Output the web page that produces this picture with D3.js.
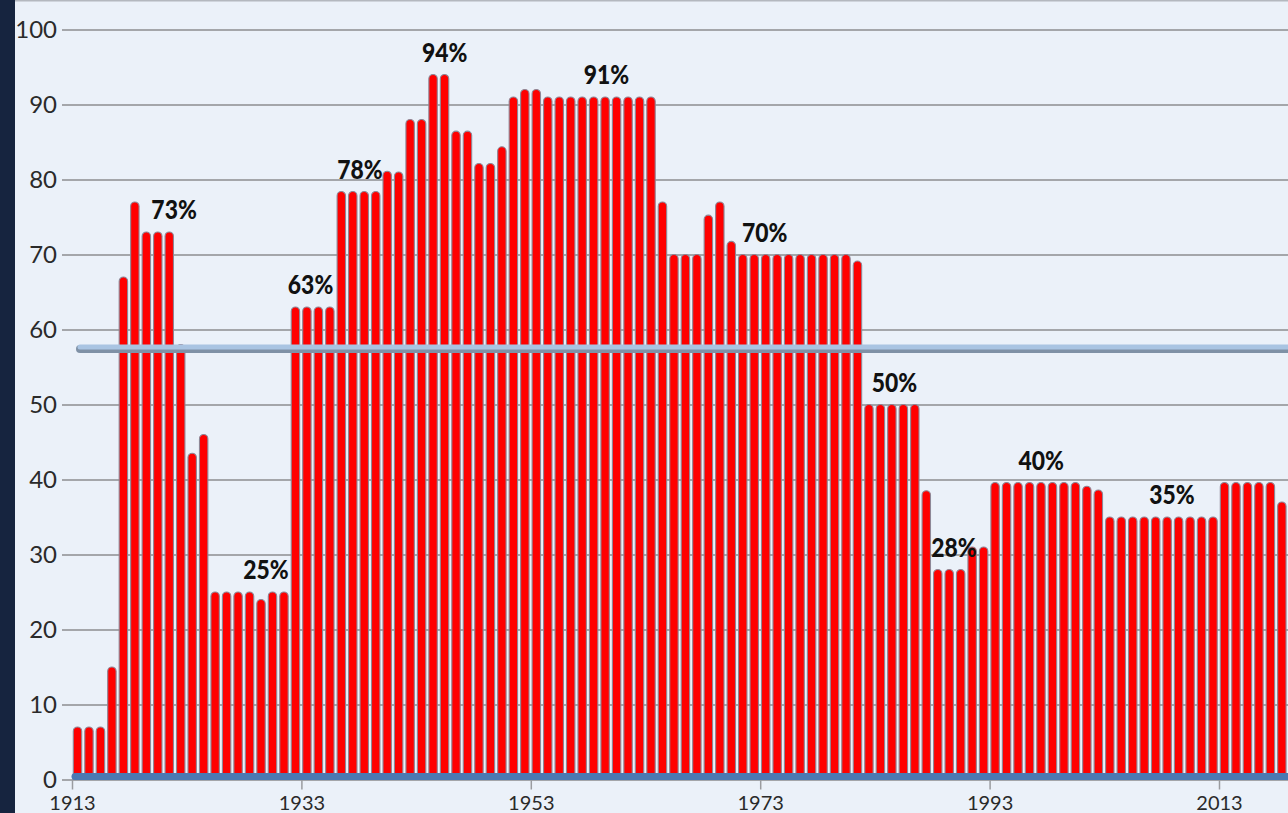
<!DOCTYPE html>
<html>
<head>
<meta charset="utf-8">
<script src="https://cdn.jsdelivr.net/npm/d3@7"></script>
<style>
  html, body { margin: 0; padding: 0; background: #ebf1f9; overflow: hidden; }
  svg { display: block; }
</style>
</head>
<body>
<svg id="chart" width="1288" height="813"></svg>
<script>
// Top marginal income tax rate (%), one bar per year
const firstYear = 1913;
const lastYear = 2018;
const years = d3.range(firstYear, lastYear + 1);
const topRates = [
  7, 7, 7, 15, 67, 77, 73, 73, 73, 58,                  // 1913-1922
  43.5, 46, 25, 25, 25, 25, 24, 25, 25, 63,             // 1923-1932
  63, 63, 63, 78.4, 78.4, 78.4, 78.4, 81.1, 81, 88,     // 1933-1942
  88, 94, 94, 86.45, 86.45, 82.13, 82.13, 84.36, 91, 92,// 1943-1952
  92, 91, 91, 91, 91, 91, 91, 91, 91, 91,               // 1953-1962
  91, 77, 70, 70, 70, 75.25, 77, 71.75, 70, 70,         // 1963-1972
  70, 70, 70, 70, 70, 70, 70, 70, 69.13, 50,            // 1973-1982
  50, 50, 50, 50, 38.5, 28, 28, 28, 31, 31,             // 1983-1992
  39.6, 39.6, 39.6, 39.6, 39.6, 39.6, 39.6, 39.6, 39.1, 38.6, // 1993-2002
  35, 35, 35, 35, 35, 35, 35, 35, 35, 35,               // 2003-2012
  39.6, 39.6, 39.6, 39.6, 39.6, 37                      // 2013-2018
];
const averageRate = 57.6;

// Years whose rate is called out, and where along the year axis each callout sits
const labelYears = [1921, 1931, 1933, 1938, 1945, 1959, 1973, 1984, 1990, 1997, 2008];
const labelAt    = [1921.9, 1929.9, 1933.8, 1938.1, 1945.5, 1959.6, 1973.4, 1984.7, 1989.9, 1997.5, 2008.9];

const xTickYears = [1913, 1933, 1953, 1973, 1993, 2013];
const yTicks = d3.range(0, 101, 10);

const W = 1288, H = 813;
const rateByYear = new Map(years.map((yr, i) => [yr, topRates[i]]));

const svg = d3.select("#chart");

const x = d3.scaleLinear().domain([firstYear, 2020]).range([72, 72 + 107 * 11.47]);
const y = d3.scaleLinear().domain([0, 100]).range([779.5, 29.5]);

// backdrop
svg.append("rect").attr("width", W).attr("height", H).attr("fill", "#ebf1f9");
svg.append("rect").attr("x", 0).attr("y", 0).attr("width", 15).attr("height", H).attr("fill", "#16243f");
svg.append("line").attr("x1", 15).attr("x2", W).attr("y1", 0.5).attr("y2", 0.5)
  .attr("stroke", "#b4b8bf").attr("stroke-width", 2);

// value axis with full-width gridlines
const yAxis = svg.append("g")
  .attr("transform", `translate(${W},0)`)
  .call(d3.axisLeft(y).tickValues(yTicks).tickSize(W - 62).tickPadding(5));
yAxis.select(".domain").remove();
yAxis.selectAll(".tick line").attr("stroke", "#a4a6aa").attr("stroke-width", 2);
yAxis.selectAll(".tick text")
  .attr("fill", "#2a2a2a")
  .attr("dy", "0.33em")
  .style("font-family", "Lato, 'Open Sans', sans-serif")
  .style("font-size", "24px");

// year axis
const xAxis = svg.append("g")
  .attr("transform", `translate(0,${y(0)})`)
  .call(d3.axisBottom(x).tickValues(xTickYears).tickFormat(d3.format("d")).tickSize(10).tickPadding(6));
xAxis.select(".domain").remove();
xAxis.selectAll(".tick line").attr("stroke", "#9a9ca0").attr("stroke-width", 1.5);
xAxis.selectAll(".tick text")
  .attr("fill", "#2a2a2a")
  .style("font-family", "Lato, 'Open Sans', sans-serif")
  .style("font-size", "20px");

// bars with rounded tops
const barInset = 1.3, barW = 8.4, r = barW / 2;
function barPath(yr, v) {
  const x0 = x(yr) + barInset, x1 = x0 + barW;
  const yb = y(0), yt = y(v);
  return `M${x0},${yb}V${yt + r}A${r},${r} 0 0 1 ${x1},${yt + r}V${yb}Z`;
}
svg.append("g")
  .selectAll("path")
  .data(years)
  .join("path")
  .attr("d", yr => barPath(yr, rateByYear.get(yr)))
  .attr("fill", "#ff0000")
  .attr("stroke", "#8e8796")
  .attr("stroke-width", 1.1);

// zero baseline
svg.append("line")
  .attr("x1", x(firstYear) + 3).attr("x2", W + 10)
  .attr("y1", y(0) - 3).attr("y2", y(0) - 3)
  .attr("stroke", "#4b79b2").attr("stroke-width", 7).attr("stroke-linecap", "round");

// long-run average line
const avgY = y(averageRate);
svg.append("line")
  .attr("x1", x(firstYear) + 8).attr("x2", W + 10)
  .attr("y1", avgY + 1.5).attr("y2", avgY + 1.5)
  .attr("stroke", "#7f91a6").attr("stroke-width", 8).attr("stroke-linecap", "round");
svg.append("line")
  .attr("x1", x(firstYear) + 8).attr("x2", W + 10)
  .attr("y1", avgY - 0.5).attr("y2", avgY - 0.5)
  .attr("stroke", "#a9c4e2").attr("stroke-width", 5).attr("stroke-linecap", "round");

// rate callouts
svg.append("g")
  .selectAll("text")
  .data(labelYears.map((yr, i) => ({ yr, at: labelAt[i], v: rateByYear.get(yr) })))
  .join("text")
  .attr("transform", d => `translate(${x(d.at)},${y(d.v) - 13}) scale(0.88,1)`)
  .attr("text-anchor", "middle")
  .attr("fill", "#111")
  .style("font-family", "Lato, 'Open Sans', sans-serif")
  .style("font-weight", "900")
  .style("font-size", "26px")
  .text(d => `${Math.round(d.v)}%`);
</script>
</body>
</html>
